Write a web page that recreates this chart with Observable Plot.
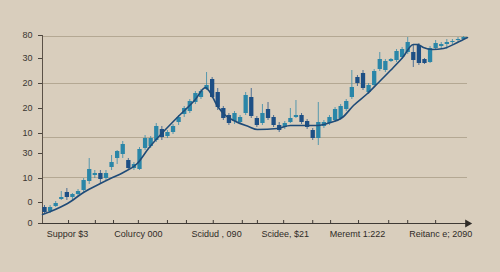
<!DOCTYPE html>
<html><head><meta charset="utf-8">
<script src="https://cdn.jsdelivr.net/npm/d3@7"></script>
<script src="https://cdn.jsdelivr.net/npm/@observablehq/plot@0.6"></script>
<style>html,body{margin:0;padding:0;background:#d9cebd;} #chart svg{display:block}</style>
</head><body><div id="chart"></div>
<script>
const opens  = [8,6,8.5,12,15.5,13,14.5,16.5,21,24,25,22.5,28,32.5,34.5,31.5,27.5,27,37.5,38.5,41.5,47,43.5,45.5,50.5,54.5,56,60.5,63,67,72,65.5,57.5,54,51,50.5,55,63,52.5,50,57,53,49,48,50.5,53,54,51,46.5,42.5,48.5,50,51.5,52.5,57,63,73,75,65.5,69,77,76.5,81,81.5,83,85.5,85.5,89,82,80.5,87.5,88.5,89.5,90.5,91.5,92];
const closes = [5.5,8,10,13,13,14.5,16,21.5,27,25,22,25,30.5,36,39.5,27.5,29.5,37,42.5,42.5,48.5,43,45.5,48.5,53,57.5,61,65,66,69,63,58,52.5,50,55,53,64,53.5,49,55,52.5,49,46.5,50,52.5,54,50.5,48,42.5,50.5,50.5,53,57,58.5,61,68,70,67.5,69,76,82,81,82,86,87,90.5,81.5,80,80,87.5,90,89.5,90.5,91,92,93];
const highs  = [9,9,11,16,17.5,15,17,22.5,32.5,26.5,26.5,26.5,34,36.5,41,32.5,30.5,38,44,43.5,50,48.5,46.5,49.5,54,58.5,62,66,67,75.5,73,67.5,58.5,55,56,54,65.5,67.5,53.5,59.5,60.5,54,50.5,51,57.5,61.5,55,52,47.5,60.5,51.5,54,58,59.5,62,76.5,74,76.5,70,77,85.5,82,82.5,87,88,93,89,90,82.5,88.5,91.5,90.5,92,92,93,93.5];
const lows   = [5,5,8,11.5,11.5,11,13.5,15.5,19.5,22.5,19.5,21.5,26.5,29.5,32.5,26.5,26.5,26.5,36.5,37.5,40.5,41.5,42.5,44.5,49,53,55,59.5,62,66.5,62.5,56.5,51.5,49,49.5,49.5,54,52.5,48,49,51.5,48,45.5,47,50,52.5,49.5,47,41.5,39,47.5,49,50.5,51.5,56,62,68.5,66.5,64.5,68,76,75.5,80.5,80.5,82,84.5,78,79,79.5,80,86.5,87.5,87,89.5,90.5,91.5];

const trendX = [-0.36,1.07,4.12,6.98,10.0,11.8,14.1,16.6,18.6,23.4,27.0,28.8,29.4,31.0,32.4,34.2,36.5,38.1,41.7,44.0,48.9,51.2,53.3,55.3,57.8,59.6,61.9,64.1,66.0,66.8,67.8,69.4,71.4,73.9,75.7];
const trendY = [4.5,6,10,15.5,20,22.5,25.5,30,37.5,52,62,68,66.5,58.5,54,51,48.5,47,47.5,49,49,50.5,53,59,65,70,76.5,83,89.5,89.5,88,87,87.5,90.5,93];

const yTickValues = [0,10.5,22.5,35,45,57.5,70,82.5,94];
const yTickLabels = ["0","0","10","30","10","20","20","30","80"];
const gridValues = [93.5,70,43,23];
const xTickMarks = [4.3,9.1,12.35,16.8,22.0,25.4,30.2,35.4,38.1,42.8,48.0,51.2,56.2,61.6,65.0,70.0];
const xLabelPos = [4.1,16.8,30.8,43.1,56.0,70.9];
const xLabels = ["Suppor $3","Colurcy 000","Scidud , 090","Scidee, $21","Meremt 1:222","Reitanc e; 2090"];

const UP = "#2a86a8", DOWN = "#1d4f85";
const candles = opens.map((o,i)=>({i, open:o, close:closes[i], high:highs[i], low:lows[i]}));
const trend = trendX.map((x,k)=>({x, y:trendY[k]}));
const xMin = -0.36, xMax = 75.7;

const chart = Plot.plot({
  width: 500, height: 272,
  marginTop: 35, marginBottom: 49, marginLeft: 42, marginRight: 33,
  style: {background: "#d9cebd", fontFamily: "'Liberation Sans', Arial, sans-serif", fontSize: "9px", color: "#3a3631"},
  x: {domain: [xMin, xMax]},
  y: {domain: [0, 94]},
  marks: [
    Plot.ruleY(gridValues, {stroke: "#b4a893", strokeWidth: 1}),
    Plot.frame({anchor: "left", stroke: "#5b5147"}),
    Plot.ruleY([0], {stroke: "#3f3a35", strokeWidth: 1}),
    Plot.dot([xMax], {x: d => d, y: d => 0, symbol: "triangle", rotate: 90, r: 3, fill: "#2f2b27", stroke: "none"}),
    Plot.ruleX(xTickMarks, {x: d => d, y1: d => 0, y2: d => 0, insetBottom: 3, stroke: "#3f3a35"}),
    Plot.ruleX(candles, {x: "i", y1: "low", y2: "high", stroke: d => d.close >= d.open ? UP : DOWN, strokeWidth: 1, strokeOpacity: 0.75}),
    Plot.ruleX(candles, {x: "i", y1: "open", y2: "close", stroke: d => d.close >= d.open ? UP : DOWN, strokeWidth: 4.3}),
    Plot.line(trend, {x: "x", y: "y", stroke: "#1f4b78", strokeWidth: 1.6, curve: "monotone-x"}),
    Plot.axisY(yTickValues, {tickSize: 4, tickPadding: 6, tickFormat: (d,i) => yTickLabels[i], stroke: "#4a443d", fill: "#3a3631", label: null}),
    Plot.axisX(xLabelPos, {tickSize: 0, tickPadding: 7, tickFormat: (d,i) => xLabels[i], fill: "#2f2b27", label: null, fontFamily: "'Liberation Sans Narrow', 'Liberation Sans', Arial, sans-serif", fontSize: 9})
  ]
});
document.getElementById("chart").appendChild(chart);
</script>
</body></html>
